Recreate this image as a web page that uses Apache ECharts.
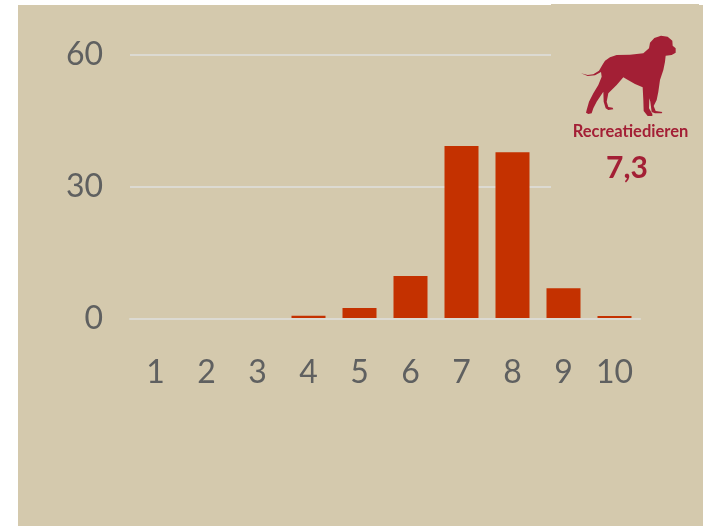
<!DOCTYPE html>
<html><head><meta charset="utf-8">
<style>html,body{margin:0;padding:0;background:#fff}#c{width:703px;height:526px}</style>
<script src="https://cdn.jsdelivr.net/npm/echarts@6/dist/echarts.min.js"></script>
</head><body><div id="c"></div>
<script>
const categories = ['1','2','3','4','5','6','7','8','9','10'];
const percentages = [0.1,0.1,0.1,0.75,2.5,9.8,39.3,37.9,7,0.7];
const petLabel = 'Recreatiedieren';
const petScore = '7,3';
const yMax = 60, yStep = 30;
const dogOutline = [[18,130],[38,135],[55,133],[72,122],[82,105],[90,92],[105,82],[125,75],[165,74],[205,70],[222,55],[225,38],[238,24],[258,17],[278,20],[292,32],[293,47],[302,55],[302,68],[290,75],[272,77],[270,95],[265,120],[255,150],[250,185],[245,210],[236,228],[242,243],[262,246],[260,250],[240,250],[230,246],[226,215],[223,205],[222,235],[232,252],[232,258],[218,258],[206,243],[205,210],[203,172],[180,162],[155,148],[145,142],[125,165],[100,190],[95,215],[100,231],[113,233],[115,238],[100,240],[92,235],[86,215],[85,185],[65,215],[55,235],[50,250],[40,252],[33,248],[35,240],[42,215],[55,190],[70,165],[80,140],[78,126],[60,136],[38,138]];
const BG='#d4c9ad', INK='#5f6060', LINE='#dcdad2', BAR='#c43100', DOG='#a31f35';
const font='Lato,sans-serif';
const chart = echarts.init(document.getElementById('c'),null,{renderer:'canvas'});
chart.setOption({
  animation:false,
  backgroundColor:'#fff',
  grid:{left:130,top:55,width:510,height:264,containLabel:false},
  xAxis:{type:'category',data:categories,z:3,
    axisLine:{show:true,lineStyle:{color:LINE,width:2}},axisTick:{show:false},
    axisLabel:{color:INK,fontFamily:font,fontSize:32,margin:38,interval:0}},
  yAxis:{type:'value',min:0,max:yMax,interval:yStep,
    axisLine:{show:false},axisTick:{show:false},
    splitLine:{lineStyle:{color:LINE,width:2}},
    axisLabel:{color:INK,fontFamily:font,fontSize:32,margin:27}},
  series:[{type:'bar',data:percentages,barWidth:34,itemStyle:{color:BAR}}],
  graphic:{elements:[
    {type:'rect',z:-1,silent:true,shape:{x:18,y:5,width:685,height:521},style:{fill:BG}},
    {type:'rect',z:10,silent:true,shape:{x:551,y:4,width:148,height:200},style:{fill:BG}},
    {type:'polygon',z:11,silent:true,x:575,y:30,scaleX:1/3,scaleY:1/3,
      shape:{points:dogOutline},style:{fill:DOG}},
    {type:'text',z:11,silent:true,x:630.5,y:132,style:{text:petLabel,fill:DOG,font:'bold 16.5px Lato',align:'center',verticalAlign:'middle'}},
    {type:'text',z:11,silent:true,x:627,y:168,style:{text:petScore,fill:DOG,font:'bold 30px Lato',align:'center',verticalAlign:'middle'}}
  ]}
});
</script></body></html>
